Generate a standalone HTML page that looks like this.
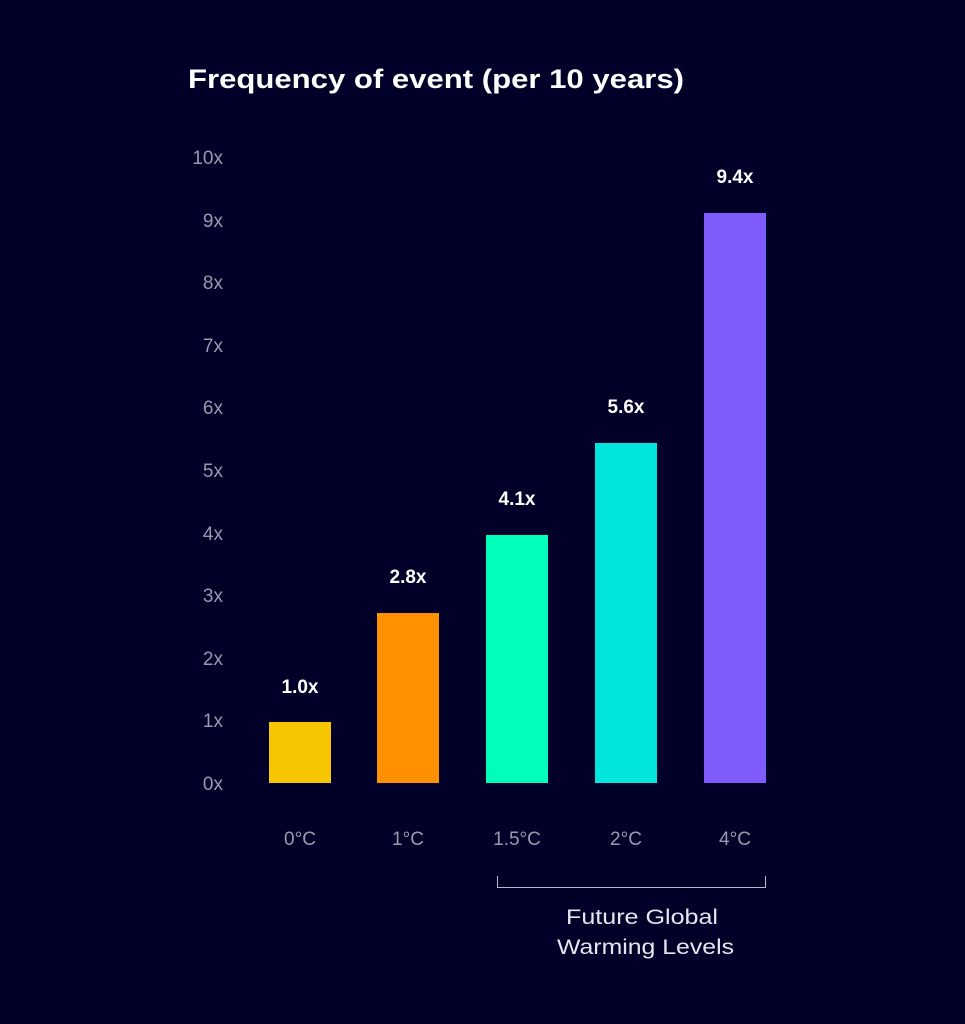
<!DOCTYPE html>
<html><head><style>
html,body{margin:0;padding:0;background:#000028;}
svg{display:block;font-family:"Liberation Sans",sans-serif;}
</style></head><body>
<svg width="965" height="1024" viewBox="0 0 965 1024" xmlns="http://www.w3.org/2000/svg">
<rect width="965" height="1024" fill="#000028"/>
<text x="188" y="88" fill="#fff" font-size="27" font-weight="bold" textLength="496" lengthAdjust="spacingAndGlyphs">Frequency of event (per 10 years)</text>
<g fill="#9a9aae" font-size="19" text-anchor="end">
<text x="223" y="790">0x</text>
<text x="223" y="727">1x</text>
<text x="223" y="665">2x</text>
<text x="223" y="602">3x</text>
<text x="223" y="540">4x</text>
<text x="223" y="477">5x</text>
<text x="223" y="414">6x</text>
<text x="223" y="352">7x</text>
<text x="223" y="289">8x</text>
<text x="223" y="227">9x</text>
<text x="223" y="164">10x</text>
</g>
<rect x="269" y="722" width="62" height="61" fill="#f6c600"/>
<rect x="377" y="613" width="62" height="170" fill="#ff9000"/>
<rect x="486" y="535" width="62" height="248" fill="#00ffb9"/>
<rect x="595" y="443" width="62" height="340" fill="#00e5dc"/>
<rect x="704" y="213" width="62" height="570" fill="#805cff"/>
<g fill="#fff" font-size="19" font-weight="bold" text-anchor="middle">
<text x="300" y="693">1.0x</text>
<text x="408" y="583">2.8x</text>
<text x="517" y="505">4.1x</text>
<text x="626" y="413">5.6x</text>
<text x="735" y="183">9.4x</text>
</g>
<g fill="#9a9aae" font-size="19" text-anchor="middle">
<text x="300" y="845">0°C</text>
<text x="408" y="845">1°C</text>
<text x="517" y="845">1.5°C</text>
<text x="626" y="845">2°C</text>
<text x="735" y="845">4°C</text>
</g>
<path d="M497.5 876 V887.5 H765.5 V876" fill="none" stroke="#b8b8c8" stroke-width="1"/>
<g fill="#e6e6ee" font-size="21">
<text x="566" y="924" textLength="152" lengthAdjust="spacingAndGlyphs">Future Global</text>
<text x="557" y="954" textLength="177" lengthAdjust="spacingAndGlyphs">Warming Levels</text>
</g>
</svg>
</body></html>
